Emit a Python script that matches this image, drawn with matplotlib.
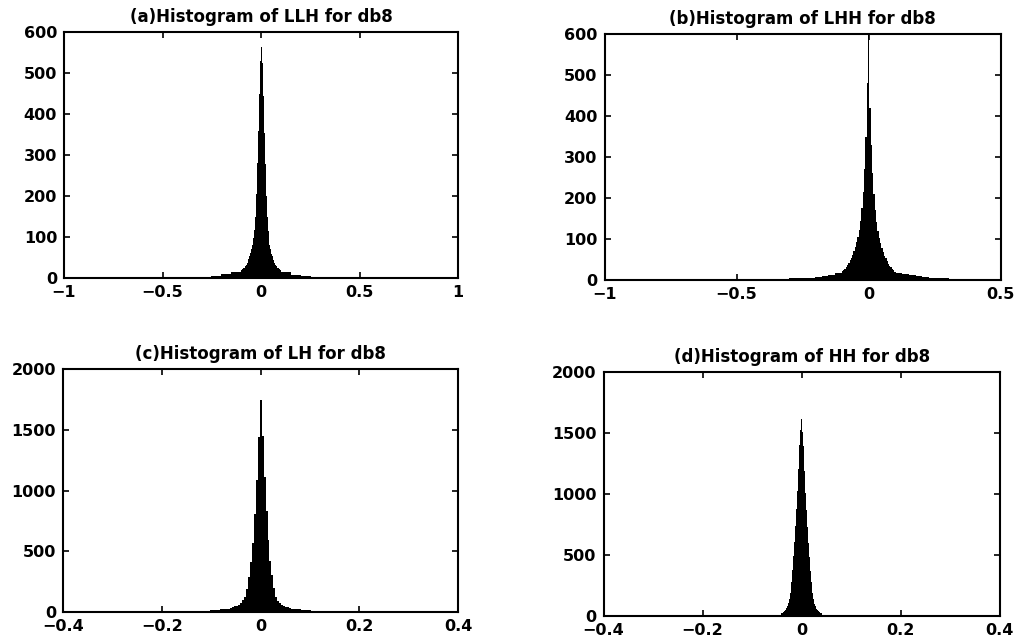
import numpy as np
import matplotlib
matplotlib.use("Agg")
import matplotlib.pyplot as plt

# ---------------- data (histogram counts) ----------------
titles = ["(a)Histogram of LLH for db8", "(b)Histogram of LHH for db8",
          "(c)Histogram of LH for db8", "(d)Histogram of HH for db8"]

# (a) LLH: core bins of width 0.005 centred on 0 (41 bins), tails of width 0.05
llh_core_w = 0.005
llh_core = [20, 22, 24, 26, 29, 33, 38, 46, 54, 62, 72, 82, 98, 118, 150, 205, 280, 360, 450, 530,
            564,
            525, 445, 355, 278, 200, 148, 116, 96, 80, 70, 60, 53, 45, 38, 33, 29, 26, 24, 22, 20]
llh_tail_w = 0.05
llh_left = [1, 1, 1, 1, 1, 1, 1, 2, 1, 2, 2, 2, 2, 3, 4, 6, 10, 14]
llh_right = [15, 8, 5, 3, 3, 2, 2, 2, 1, 1, 2, 1, 1, 1, 1, 1, 1, 1]

# (b) LHH: core bins of width 0.005 (41 bins), tails of width 0.025
lhh_core_w = 0.005
lhh_core = [22, 25, 28, 32, 37, 42, 48, 55, 62, 70, 80, 92, 105, 122, 145, 175, 215, 270, 350, 480,
            598,
            420, 330, 262, 210, 170, 142, 120, 103, 90, 78, 68, 60, 53, 46, 40, 35, 31, 28, 24, 21]
lhh_tail_w = 0.025
lhh_left = [1, 1, 1, 1, 1, 1, 1, 1, 1, 1, 1, 1, 1, 2, 1, 1, 2, 1, 2, 2, 2, 2, 2, 3, 2, 3, 3, 3,
            4, 4, 5, 6, 8, 10, 13, 17]
lhh_right = [18, 14, 12, 10, 7, 6, 5, 4, 3, 3, 2, 2, 2, 1, 1, 1]

# (c) LH: core bins of width 0.004 (31 bins), tails of width 0.02
lh_core_w = 0.004
lh_core = [36, 41, 47, 54, 62, 76, 96, 125, 190, 290, 410, 570, 810, 1090, 1440,
           1750,
           1450, 1110, 830, 590, 425, 305, 195, 122, 94, 74, 61, 53, 45, 40, 35]
lh_tail_w = 0.02
lh_left = [1, 1, 1, 1, 1, 2, 1, 2, 2, 2, 3, 4, 5, 8, 12, 18, 27]
lh_right = [28, 19, 12, 8, 5, 4, 3, 2, 2, 2, 1, 1, 1, 1, 1, 1, 1]

# (d) HH: core bins of width 0.002 (41 bins), tails of width 0.02
hh_core_w = 0.002
hh_core = [22, 27, 33, 40, 50, 62, 80, 105, 140, 190, 280, 380, 490, 610, 740, 880, 1020, 1200, 1400, 1520,
           1610,
           1510, 1390, 1190, 1010, 870, 730, 600, 480, 370, 275, 185, 138, 102, 78, 60, 48, 39, 32, 26, 21]
hh_tail_w = 0.02
hh_left = [1, 1, 1, 1, 1, 1, 1, 1, 1, 1, 1, 1, 1, 2, 2, 3, 5, 12]
hh_right = [12, 5, 3, 2, 2, 1, 1, 1, 1, 1, 1, 1, 1, 1, 1, 1, 1, 1]

xlims = [(-1, 1), (-1, 0.5), (-0.4, 0.4), (-0.4, 0.4)]
ylims = [(0, 600), (0, 600), (0, 2000), (0, 2000)]
xticks = [[-1, -0.5, 0, 0.5, 1], [-1, -0.5, 0, 0.5], [-0.4, -0.2, 0, 0.2, 0.4], [-0.4, -0.2, 0, 0.2, 0.4]]
yticks = [list(range(0, 601, 100)), list(range(0, 601, 100)),
          list(range(0, 2001, 500)), list(range(0, 2001, 500))]

panels = [
    (llh_core_w, llh_core, llh_tail_w, llh_left, llh_right),
    (lhh_core_w, lhh_core, lhh_tail_w, lhh_left, lhh_right),
    (lh_core_w, lh_core, lh_tail_w, lh_left, lh_right),
    (hh_core_w, hh_core, hh_tail_w, hh_left, hh_right),
]


def build_edges(core_w, core, tail_w, left, right):
    n = len(core)
    core_edges = (np.arange(n + 1) - n / 2.0) * core_w
    left_edges = core_edges[0] - tail_w * np.arange(len(left), 0, -1)
    right_edges = core_edges[-1] + tail_w * np.arange(1, len(right) + 1)
    edges = np.concatenate([left_edges, core_edges, right_edges])
    counts = np.array(list(left) + list(core) + list(right), dtype=float)
    return edges, counts


def fmt(v):
    if v == 0:
        return "0"
    s = ("%g" % v)
    return s.replace("-", "\u2212")


plt.rcParams['font.family'] = ['DejaVu Sans']
plt.rcParams['font.weight'] = 'bold'

fig = plt.figure(figsize=(10.16, 6.41), dpi=100)
fig.patch.set_facecolor("white")

rects = [
    (0.063, 0.566, 0.388, 0.384),
    (0.595, 0.563, 0.390, 0.384),
    (0.062, 0.045, 0.389, 0.379),
    (0.594, 0.039, 0.390, 0.381),
]

for i, rect in enumerate(rects):
    ax = fig.add_axes(rect)
    edges, counts = build_edges(*panels[i])
    ax.stairs(counts, edges, fill=True, color="black", linewidth=0)
    ax.set_xlim(*xlims[i])
    ax.set_ylim(*ylims[i])
    ax.set_xticks(xticks[i])
    ax.set_xticklabels([fmt(v) for v in xticks[i]])
    ax.set_yticks(yticks[i])
    ax.set_yticklabels([fmt(v) for v in yticks[i]])
    ax.tick_params(axis="both", direction="in", top=True, right=True, length=4, width=1.2,
                   labelsize=11.5)
    ax.tick_params(axis="x", pad=5)
    ax.tick_params(axis="y", pad=5)
    for lab in ax.get_xticklabels() + ax.get_yticklabels():
        lab.set_fontweight("bold")
    for sp in ax.spines.values():
        sp.set_linewidth(1.5)
    ax.set_title(titles[i], fontsize=12, fontweight="bold", pad=7)

fig.savefig("out.png", dpi=100, facecolor="white")
